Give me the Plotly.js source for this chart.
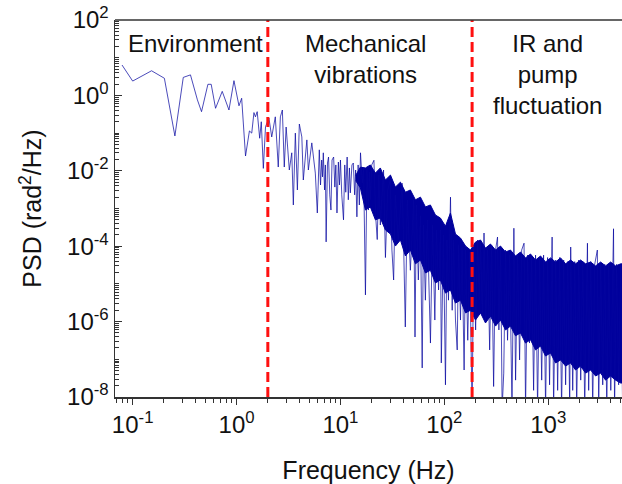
<!DOCTYPE html>
<html><head><meta charset="utf-8">
<script src="https://cdn.plot.ly/plotly-3.0.1.min.js"></script>
<style>html,body{margin:0;padding:0;background:#fff;} #chart{width:622px;height:484px;}</style>
</head><body><div id="chart"></div>
<script>
const freq = [0.079,0.1,0.152,0.202,0.255,0.307,0.36,0.42,0.46,0.53,0.57,0.628,0.728,0.845,0.944,1.055,1.12,1.22,1.33,1.40,1.47,1.52,1.58,1.67,1.73,1.81,1.90,2.05,
2.18,2.36,2.52,2.64,2.76,2.88,3.0,3.22,3.4,3.52,3.68,3.85,4.02,4.25,4.39,4.75,4.91,5.3,5.73,
5.99,6.26,6.43,6.6,6.72,6.84,7.03,7.16,7.28,7.5,7.68,7.89,8.1,8.3,8.6,8.83,9.03,9.26,9.55,9.78,10.0,10.3,10.7,11.0,11.25,11.6,11.9,12.2,12.45,12.9,13.3,13.7,14.0,14.4,14.8,15.2,15.6,16.2,16.7,17.4,18.0,18.6,19.0,19.4,20.0,
21,21.8,22.6,23.4,24.2,26,27.1,28.5,30.2,31.3,32.5,33.7,36,39.2,40.3,42.1,44,47.1,50.7,52.2,53.8,56.2,58.8,61.2,63,65.7,68.5,71.5,73.5,77,81,84,88,91.7,93.5,98,102.5,106,109.6,114.6,119,122.5,128,133,137,143,148,155,160,168,175,185,192,200,209,216,223,232,241,250,261,273,285,298,311,325,335,348,360,373,388,406,425,448,467,485,507,530,555,585,605,633,660,692,723,755,790,826,865,902,943,986,1030,1090,1127,1180,1232,1285,1345,1408,1470,1540,1610,1645,1720,1800,1880,1965,2055,2150,2245,2385,2450,2565,2680,2800,2970,3060,3200,3345,3500,3660,3825,4000,4250,4350,4550,4760,4990,5200];
const psd = [6.4,2.4,4.5,2.85,0.084,3.0,3.5,0.76,0.37,1.97,1.97,0.455,1.28,0.41,2.46,0.53,0.84,0.0247,0.114,0.1,0.35,0.27,0.37,0.073,0.2,0.0116,0.148,0.25,
0.079,0.27,0.0126,0.27,0.41,0.0126,0.145,0.0105,0.030,0.00124,0.1,0.0031,0.174,0.079,0.0057,0.066,0.0105,0.055,0.0087,
7.6e-4,0.036,0.0042,0.0193,0.0069,0.030,0.0031,0.0143,1.3e-4,0.0161,0.0232,0.0023,9.1e-4,0.0193,0.0232,0.0037,0.0143,7.6e-4,0.0171,0.0042,0.0193,0.0023,5.0e-4,0.0143,0.0027,0.0232,0.0017,0.0119,0.0026,0.0143,0.0161,0.0023,0.0105,6e-4,0.0143,0.00124,0.030,0.0047,0.0119,5.1e-6,0.0105,9.1e-4,0.0093,0.0017,0.0143,
0.019,6.5e-4,1.5e-4,0.0078,3.65e-4,0.0105,5e-5,0.0031,0.0057,7.9e-5,1.27e-5,0.0023,1.46e-4,0.0047,2.7e-4,7.2e-7,0.0017,2.3e-5,0.0017,3.9e-7,0.00124,1.27e-5,6.5e-4,5.9e-8,3.65e-4,3.7e-6,4.95e-4,2e-6,2.7e-7,3.65e-4,1.1e-6,2.7e-4,6.9e-6,2.7e-4,8e-8,2.0e-4,2.1e-8,1.46e-4,3.7e-6,0.002,2e-6,1.46e-4,1.1e-6,1.77e-7,1.1e-4,1.1e-6,9.5e-5,5.2e-8,7.9e-5,3.2e-7,7e-5,5e-9,1.07e-4,6e-7,1.46e-4,3.7e-6,1.2e-4,1.7e-6,2.24e-4,1.1e-6,7.9e-5,1.77e-7,1.07e-4,1.9e-8,7.9e-5,1.75e-4,6e-7,7.9e-5,5e-9,4.3e-8,7.9e-5,3.2e-7,5.8e-5,5e-9,3.0e-4,2.8e-8,5.8e-5,9.6e-8,7.9e-5,1.2e-4,5e-9,5.8e-5,2.7e-7,5e-5,1.5e-8,5.8e-5,5e-9,4.3e-5,2.8e-8,5.8e-5,5e-9,5e-5,2.1e-8,1.75e-4,5e-9,4.3e-5,1.5e-8,5e-5,5e-9,4.3e-5,2.1e-8,3.9e-5,5e-9,9.5e-5,1.5e-8,3.9e-5,5e-9,4.3e-5,2.8e-8,3.9e-5,5e-9,1.2e-4,1.5e-8,3.9e-5,5e-9,3.3e-5,7.9e-5,5e-9,3.3e-5,2.1e-8,3.3e-5,5e-9,3.3e-5,1.5e-8,2.9e-4,5e-9,3.3e-5,2.1e-8,3.3e-5,5e-9];

// Dense core of the spectrum: upper and lower edge of the solid band
const bandFreq = [14.0,15.56,17.4,19.4,21.7,24.2,27.1,30.3,33.8,37.8,42.2,47.1,52.7,58.9,65.8,73.4,82.1,91.6,102.5,114.5,128,143,160,178.5,199.5,223,249,278,311,347,388,433,484,541,604,675,755,843,942,1052,1177,1315,1469,1640,1832,2047,2290,2558,2858,3192,3565,3982,4453,4974,5200];
const bandHigh = [0.0075,0.0125,0.0119,0.0143,0.0087,0.0119,0.0057,0.0077,0.0037,0.0050,0.0027,0.0031,0.0017,0.0020,0.0011,0.00124,6.7e-4,5.6e-4,3.4e-4,7.6e-4,2.1e-4,1.65e-4,1.01e-4,7.9e-5,1.29e-4,1.46e-4,8.9e-5,1.14e-4,7.9e-5,1.01e-4,7.0e-5,7.9e-5,5.5e-5,7.0e-5,4.9e-5,6.2e-5,4.3e-5,5.5e-5,3.8e-5,4.9e-5,3.8e-5,4.9e-5,3.4e-5,4.3e-5,3.4e-5,4.3e-5,3.4e-5,3.8e-5,3.0e-5,3.8e-5,3.0e-5,3.8e-5,3.0e-5,3.4e-5,3.4e-5];
const bandLow = [0.0055,0.0035,9.1e-4,0.0011,5.0e-4,5.6e-4,2.7e-4,2.1e-4,1.01e-4,1.46e-4,5.5e-5,7.9e-5,3.4e-5,4.3e-5,1.95e-5,2.3e-5,1.06e-5,1.27e-5,5.7e-6,6.9e-6,3.1e-6,3.7e-6,1.7e-6,2.0e-6,1.1e-6,1.7e-6,9.2e-7,1.4e-6,7.6e-7,1.1e-6,6.0e-7,7.6e-7,4.2e-7,5.0e-7,2.7e-7,3.3e-7,1.77e-7,2.25e-7,1.22e-7,1.47e-7,8.0e-8,9.6e-8,6.6e-8,8.0e-8,5.2e-8,6.6e-8,4.3e-8,5.2e-8,3.6e-8,4.3e-8,2.8e-8,3.6e-8,2.8e-8,2.35e-8,2.35e-8];

const regionBounds = [2.0, 185];
const regionLabels = ['Environment', 'Mechanical<br>vibrations', 'IR and<br>pump<br>fluctuation'];

const xTickVals = [0.1, 1, 10, 100, 1000];
const xTickText = ['10<sup>-1</sup>','10<sup>0</sup>','10<sup>1</sup>','10<sup>2</sup>','10<sup>3</sup>'];
const yTickVals = [1e-8, 1e-6, 1e-4, 1e-2, 1, 100];
const yTickText = ['10<sup>-8</sup>','10<sup>-6</sup>','10<sup>-4</sup>','10<sup>-2</sup>','10<sup>0</sup>','10<sup>2</sup>'];

function minorTicks(e0, e1) {
  const v = [];
  for (let e = e0; e <= e1; e++) {
    for (let m = 2; m <= 9; m++) v.push(m * Math.pow(10, e));
  }
  return v;
}

const FONT = 'Arial, "Liberation Sans", sans-serif';
const blue = '#00009C';

const traces = [
  {x: bandFreq, y: bandHigh, type: 'scatter', mode: 'lines', line: {width: 1, color: blue}, hoverinfo: 'skip', showlegend: false},
  {x: bandFreq, y: bandLow, type: 'scatter', mode: 'lines', fill: 'tonexty', fillcolor: blue, line: {width: 1, color: blue}, hoverinfo: 'skip', showlegend: false},
  {x: freq, y: psd, type: 'scatter', mode: 'lines', line: {width: 1, color: 'rgba(5,5,160,0.72)'}, showlegend: false}
];

const shapes = regionBounds.map(f => ({
  type: 'line', xref: 'x', yref: 'paper', x0: f, x1: f, y0: 0, y1: 1,
  line: {color: '#FF1010', width: 3, dash: '10px,5px'}, layer: 'above'
}));
shapes.push({type: 'line', xref: 'paper', yref: 'paper', x0: 0, x1: 1, y0: 1, y1: 1, line: {color: '#333', width: 1.5}});

const annX = [0.158, 0.495, 0.854];
const annotations = regionLabels.map((t, i) => ({
  text: t, xref: 'paper', yref: 'paper', x: annX[i], y: 0.979, xanchor: 'center', yanchor: 'top',
  showarrow: false, align: 'center', font: {family: FONT, size: 24, color: '#111'}
}));

const layout = {
  width: 622, height: 484,
  margin: {l: 115, r: 0, t: 20, b: 87},
  paper_bgcolor: '#fff', plot_bgcolor: '#fff',
  font: {family: FONT, color: '#111'},
  showlegend: false,
  xaxis: {
    type: 'log', range: [-1.17, 3.71], showgrid: false, zeroline: false,
    showline: true, linecolor: '#333', linewidth: 1.5,
    tickmode: 'array', tickvals: xTickVals, ticktext: xTickText,
    ticks: 'outside', ticklen: 6, tickwidth: 1.2, tickcolor: '#333',
    tickfont: {family: FONT, size: 24, color: '#111'},
    minor: {tickmode: 'array', tickvals: minorTicks(-2, 3), ticks: 'outside', ticklen: 4, tickwidth: 1, tickcolor: '#333', showgrid: false},
    title: {text: 'Frequency (Hz)', font: {family: FONT, size: 25, color: '#111'}}
  },
  yaxis: {
    type: 'log', range: [-8, 2], showgrid: false, zeroline: false,
    showline: true, linecolor: '#333', linewidth: 1.5,
    tickmode: 'array', tickvals: yTickVals, ticktext: yTickText,
    ticks: 'inside', ticklen: 7, tickwidth: 1.2, tickcolor: '#333',
    tickfont: {family: FONT, size: 24, color: '#111'},
    minor: {tickmode: 'array', tickvals: minorTicks(-8, 1).concat([1e-7,1e-5,1e-3,1e-1,10]), ticks: 'inside', ticklen: 4, tickwidth: 1, tickcolor: '#333', showgrid: false},
    title: {text: 'PSD (rad<sup>2</sup>/Hz)', standoff: 18, font: {family: FONT, size: 25, color: '#111'}}
  },
  shapes: shapes,
  annotations: annotations
};

Plotly.newPlot('chart', traces, layout, {displayModeBar: false, staticPlot: true});
</script>
</body></html>
